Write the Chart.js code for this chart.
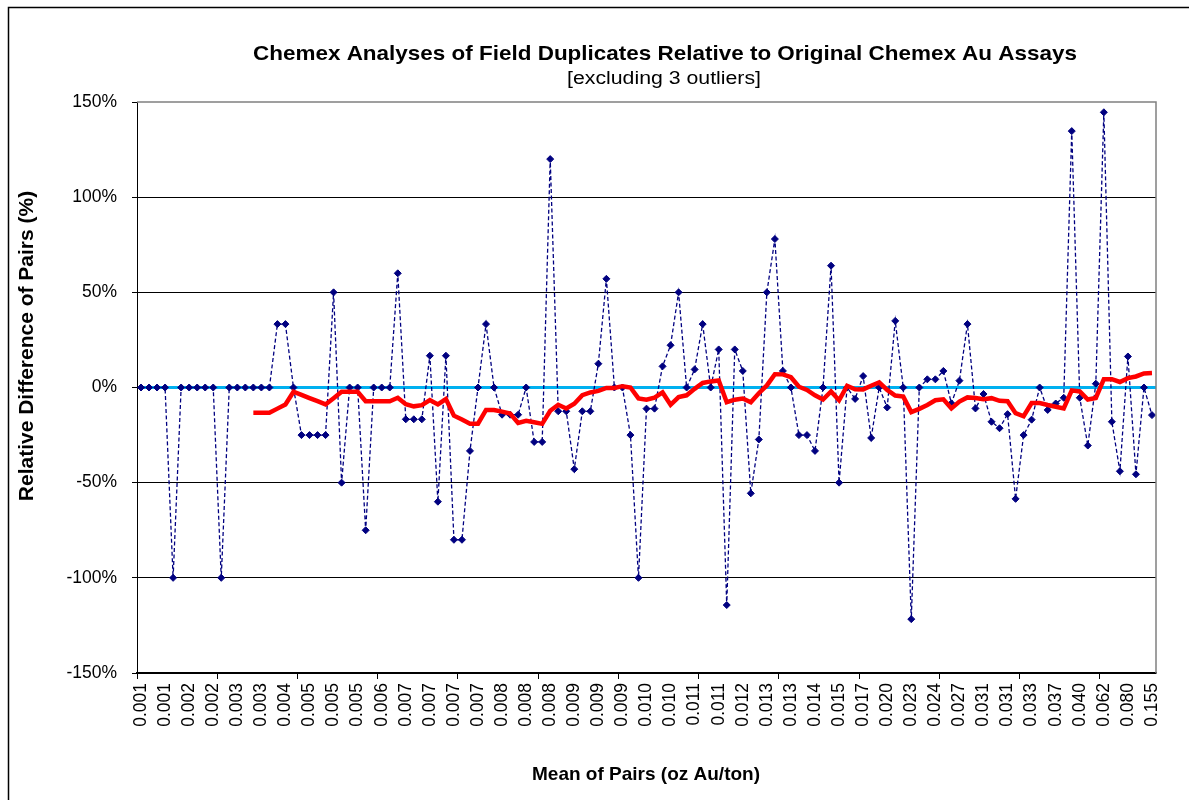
<!DOCTYPE html>
<html>
<head>
<meta charset="utf-8">
<title>Chemex field duplicates</title>
<script src="https://cdn.jsdelivr.net/npm/chart.js@4"></script>
<style>
  html, body { margin: 0; padding: 0; background: #fff; }
  #wrap { width: 1189px; height: 800px; }
</style>
</head>
<body>
<div id="wrap"><canvas id="chart" width="1189" height="800"></canvas></div>
<script>
// x-axis labels shown every 3rd pair (mean of pairs, oz Au/ton)
const tickLabels = ['0.001','0.001','0.002','0.002','0.003','0.003','0.004','0.005','0.005','0.005',
    '0.006','0.007','0.007','0.007','0.007','0.008','0.008','0.008','0.009','0.009',
    '0.009','0.010','0.010','0.011','0.011','0.012','0.013','0.013','0.014','0.015',
    '0.017','0.020','0.023','0.024','0.027','0.031','0.031','0.033','0.037','0.040',
    '0.062','0.080','0.155'];

// relative difference of pairs (%), sorted by mean of pairs
const diffPct = [
    0, 0, 0, 0, -100, 0, 0, 0, 0, 0,
    -100, 0, 0, 0, 0, 0, 0, 33.3, 33.3, 0,
    -25, -25, -25, -25, 50, -50, 0, 0, -75, 0,
    0, 0, 60, -16.7, -16.7, -16.7, 16.7, -60, 16.7, -80,
    -80, -33.3, 0, 33.3, 0, -14.3, -14.3, -14.3, 0, -28.6,
    -28.6, 120, -12.5, -12.5, -42.9, -12.5, -12.5, 12.5, 57.1, 0,
    0, -25, -100, -11.1, -11.1, 11.1, 22.2, 50, 0, 9.5,
    33.3, 0, 20, -114.3, 20, 8.7, -55.6, -27.3, 50, 78,
    8.7, 0, -25, -25, -33.3, 0, 64, -50, 0, -6,
    6, -26.5, 0, -10.5, 35, 0, -121.7, 0, 4.3, 4.3,
    8.7, -8.3, 3.6, 33.3, -11, -3.4, -18, -21.4, -14, -58.5,
    -25, -16.9, 0, -11.8, -8.4, -5.4, 134.7, -5.4, -30.5, 2,
    144.6, -18, -44, 16.3, -45.6, 0, -14.5
];

// red trend line (moving average)
const trendPct = [
    null, null, null, null, null, null, null, null, null, null,
    null, null, null, null, -13.3, -13.3, -13.3, -11.1, -8.9, -2.2,
    -3.9, -5.6, -7.2, -8.9, -5.6, -2.2, -2.2, -2.2, -7.2, -7.2,
    -7.2, -7.2, -5.4, -8.8, -9.9, -9.3, -6.6, -8.9, -6.1, -14.8,
    -16.8, -19.0, -19.0, -11.8, -11.8, -12.7, -13.7, -18.6, -17.5, -18.3,
    -19.1, -12.2, -9.1, -11.0, -8.5, -4.0, -2.6, -1.8, -0.2, -0.2,
    0.7, 0.0, -5.7, -6.4, -5.3, -2.6, -9.1, -5.0, -4.1, -0.7,
    2.4, 3.2, 3.7, -7.7, -6.4, -5.8, -7.8, -3.0, 1.1, 7.0,
    6.9, 5.4, 0.4, -1.3, -4.1, -6.3, -2.1, -6.7, 0.9, -0.9,
    -1.0, 0.9, 2.7, -1.3, -4.2, -4.8, -12.9, -11.2, -9.2, -6.7,
    -6.2, -11.0, -7.4, -5.2, -5.5, -6.1, -5.6, -7.0, -7.2, -13.5,
    -15.1, -8.2, -8.2, -9.2, -10.1, -11.0, -1.5, -2.1, -6.3, -5.5,
    4.4, 4.4, 2.9, 4.9, 5.8, 7.4, 7.6
];

const yTicks = [-150, -100, -50, 0, 50, 100, 150];

const categories = diffPct.map((v, i) => i % 3 === 0 ? tickLabels[i / 3] : '');

const FONT = 'Arial, "Liberation Sans", sans-serif';

// draw text centred at x, stretched sideways to a given width (Excel-like look)
function fittedText(ctx, text, x, y, width) {
    const w = ctx.measureText(text).width;
    ctx.save();
    ctx.translate(x, y);
    ctx.scale(width / w, 1);
    ctx.fillText(text, 0, 0);
    ctx.restore();
}

// title, axis titles and frame drawn by hand
const decorations = {
    id: 'decorations',
    afterDraw(chart) {
        const ctx = chart.ctx;
        const area = chart.chartArea;
        ctx.save();

        // outer chart border (cropped on the right and bottom)
        ctx.strokeStyle = '#000';
        ctx.lineWidth = 1.5;
        ctx.strokeRect(8.5, 7.5, 1400, 1000);

        // plot area frame top / right
        ctx.strokeStyle = '#808080';
        ctx.lineWidth = 1.5;
        ctx.beginPath();
        ctx.moveTo(area.left, area.top);
        ctx.lineTo(area.right, area.top);
        ctx.lineTo(area.right, area.bottom);
        ctx.stroke();

        ctx.fillStyle = '#000';
        ctx.textAlign = 'center';
        ctx.textBaseline = 'alphabetic';
        ctx.font = 'bold 21px ' + FONT;
        fittedText(ctx, 'Chemex Analyses of Field Duplicates Relative to Original Chemex Au Assays', 665, 60, 824);
        ctx.font = '18px ' + FONT;
        fittedText(ctx, '[excluding 3 outliers]', 664, 84, 194);

        ctx.font = 'bold 19px ' + FONT;
        ctx.fillText('Mean of Pairs (oz Au/ton)', 646, 780);

        ctx.font = 'bold 21px ' + FONT;
        ctx.translate(33, 346);
        ctx.rotate(-Math.PI / 2);
        ctx.fillText('Relative Difference of Pairs (%)', 0, 0);
        ctx.restore();
    }
};

const chart = new Chart(document.getElementById('chart'), {
    type: 'line',
    plugins: [decorations],
    data: {
        labels: categories,
        datasets: [
            {
                label: 'Moving average',
                data: trendPct,
                borderColor: '#ff0000',
                borderWidth: 4.5,
                pointRadius: 0,
                fill: false,
                order: 0
            },
            {
                label: 'Relative difference',
                data: diffPct,
                borderColor: '#000080',
                backgroundColor: '#000080',
                borderWidth: 1.3,
                borderDash: [4, 2.5],
                pointStyle: 'rectRot',
                pointRadius: 3.5,
                pointBorderWidth: 1,
                fill: false,
                order: 1
            }
        ]
    },
    options: {
        responsive: false,
        devicePixelRatio: 1,
        animation: false,
        layout: { padding: { top: 102, right: 33, bottom: 0, left: 0 } },
        plugins: {
            legend: { display: false },
            tooltip: { enabled: false }
        },
        scales: {
            x: {
                offset: true,
                afterFit: (scale) => { scale.height = 127; },
                border: { color: '#000', width: 1.5 },
                grid: {
                    offset: true,
                    drawOnChartArea: false,
                    tickLength: 6,
                    color: (c) => c.index % 10 === 0 ? '#000' : 'rgba(0,0,0,0)',
                    tickColor: (c) => c.index % 10 === 0 ? '#000' : 'rgba(0,0,0,0)'
                },
                ticks: {
                    autoSkip: false,
                    maxRotation: 90,
                    minRotation: 90,
                    padding: 4,
                    color: '#000',
                    font: { family: FONT, size: 17.5 }
                }
            },
            y: {
                min: -150,
                max: 150,
                afterFit: (scale) => { scale.width = 137; },
                afterBuildTicks: (scale) => { scale.ticks = yTicks.map(v => ({ value: v })); },
                border: { color: '#000', width: 1 },
                grid: {
                    color: (c) => c.tick.value === 0 ? '#00b0f0' : (c.tick.value === 150 ? 'rgba(0,0,0,0)' : '#000'),
                    lineWidth: (c) => c.tick.value === 0 ? 3 : 1,
                    tickColor: '#000',
                    tickWidth: 1,
                    tickLength: 5
                },
                ticks: {
                    padding: 15,
                    color: '#000',
                    font: { family: FONT, size: 17.5 },
                    callback: (v) => v + '%'
                }
            }
        }
    }
});
</script>
</body>
</html>
